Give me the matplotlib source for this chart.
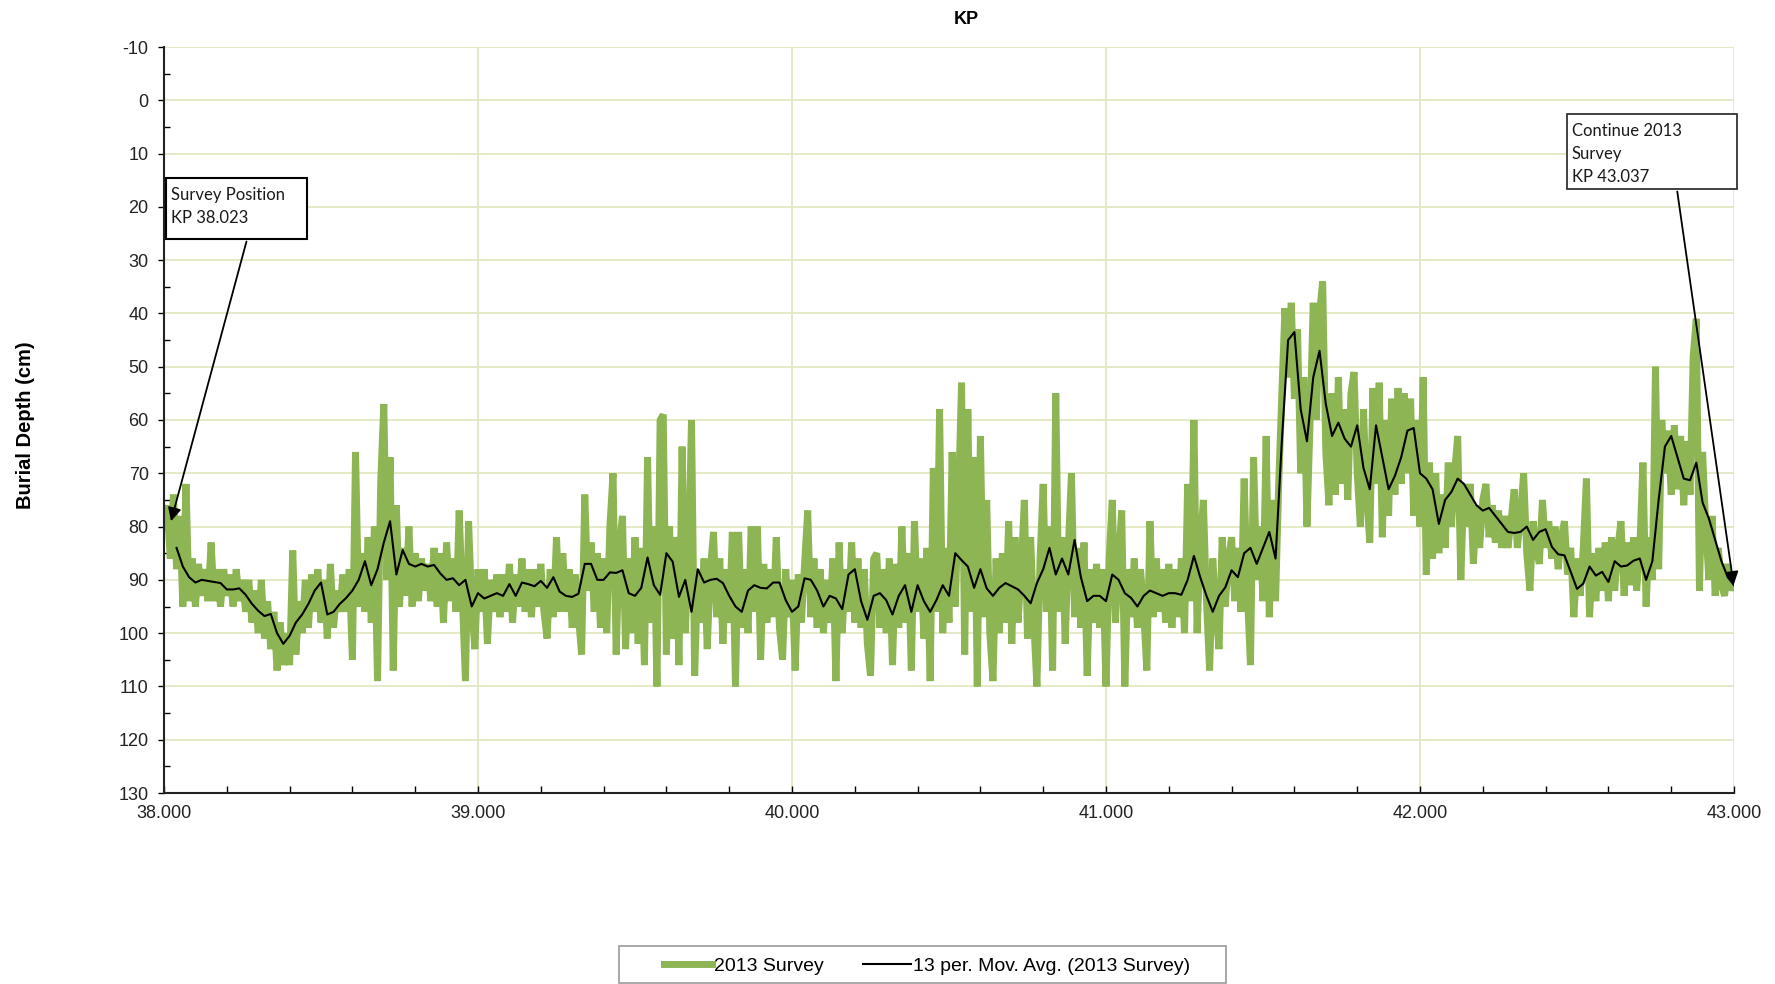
import numpy as np
import matplotlib
matplotlib.use('Agg')
import matplotlib.pyplot as plt
from matplotlib.patches import Rectangle
from matplotlib.ticker import MultipleLocator, FormatStrFormatter

plt.rcParams['axes.unicode_minus'] = False

# burial depth (cm), one value every 0.01 KP from 38.000
kp_start = 38.00
kp_step = 0.01
survey_2013 = [
    80, 76, 86, 74, 88, 78, 95, 72, 94, 86,
    95, 87, 93, 88, 94, 83, 94, 88, 95, 88,
    93, 89, 95, 88, 94, 90, 96, 90, 98, 92,
    100, 90, 101, 94, 103, 96, 107, 98, 106, 100,
    106, 84.5, 104, 94, 100, 90, 99, 89, 96, 88,
    98, 90, 101, 87, 99, 92, 96, 89, 96, 88,
    105, 66, 95, 85, 96, 82, 98, 80, 109, 72,
    57, 90, 67, 107, 76, 95, 84, 93, 80, 95,
    85, 94, 86, 92, 87,
    94, 84, 95, 85, 98,
    83, 94, 86, 96, 77, 93, 109, 79, 95, 103,
    88, 96, 88, 102, 90, 96, 89, 97, 89, 96,
    87, 98, 89, 95, 86, 96, 88, 97, 88, 95,
    87, 96, 101, 88, 97, 82, 96, 85, 96, 88,
    99, 89, 97, 104, 74, 92, 83, 96, 85, 99,
    86, 100, 80, 70, 104, 84, 78, 103, 86, 100,
    82, 102, 84, 106, 67, 98, 80, 110, 60, 59,
    104, 80, 101, 82, 106, 65, 100, 86,
    60, 108,
    88, 98, 86, 103, 88, 81, 97, 86, 102, 88,
    98, 81, 110, 81, 99, 88, 100, 80, 96, 80,
    105, 87, 98, 88, 97, 82, 99, 105, 88, 97,
    90, 107, 89, 98, 87, 77, 97, 86, 99, 88,
    100, 90, 98, 86, 109, 83, 100, 88, 96, 83,
    98, 86, 99, 88, 102, 108, 86, 85, 99, 88,
    100, 86, 106, 87, 99, 80, 98, 85, 107, 79,
    96, 86, 101, 84, 109, 69, 96, 58, 100, 84,
    98,
    66, 95, 75, 53, 104, 58, 96, 67, 110,
    63, 97, 75, 100, 109, 86, 100, 85, 98, 79,
    102, 82, 98, 88, 75, 101, 82, 98, 110, 86,
    72, 96, 80, 107, 55, 96, 82, 102, 84, 70,
    97, 84, 99, 83, 108, 88, 98, 87, 99, 88,
    110, 86, 75, 98, 86, 77, 110, 88, 97, 86,
    99, 88, 96, 107, 79, 97, 86, 96, 88, 98,
    87, 99, 88, 97, 86, 100, 72, 94, 60, 100,
    84,
    75, 94, 107, 86, 96, 103, 82, 95, 86,
    82, 94, 84, 96, 71, 92, 106, 67, 90, 80,
    94, 63, 97, 75, 94, 72, 55, 39, 52, 38,
    56, 43, 70, 52, 80, 60, 38, 60, 40, 34,
    66, 76, 55, 74, 52, 72, 58, 75, 55, 51,
    70, 80, 58, 74, 83, 54, 72, 53, 82, 60,
    78, 56, 74, 54, 72, 55, 70, 56, 78, 60,
    80, 52, 89, 68, 86, 70, 85, 74, 84, 68,
    80, 70, 63, 90, 72, 80,
    72, 87, 76, 84,
    75, 72, 82, 76, 83, 77, 84, 78, 84, 79,
    73, 84, 78, 70, 85, 92, 79, 84, 87, 75,
    84, 79, 86, 80, 88, 82, 79, 89, 84, 97,
    86, 93, 84, 71, 97, 85, 94, 84, 92, 83,
    94, 82, 92, 84, 79, 93, 83, 91, 82, 92,
    84, 68, 95, 82, 90, 50, 88, 60, 70, 62,
    74, 61, 73, 63, 76, 64, 74, 48, 41, 92,
    66, 80, 90, 78, 93, 84, 91, 93, 87, 92,
    90,
]

# 13 period moving average as drawn, one value every 0.02 KP from 38.04
avg_start = 38.04
avg_step = 0.02
mov_avg_13 = [
    84, 87.5, 89.5, 90.5, 90, 90.2, 90.4, 90.6, 91.8, 91.8,
    91.6, 92.8, 94.5, 95.8, 96.8, 96.4, 100, 102, 100.5, 98,
    96.5, 94.5, 92, 90.5, 96.5, 96, 94.5, 93.4, 92, 90,
    86.5, 91, 88, 83, 79, 89, 84.4, 87, 87.5, 87,
    87.5,
    87.2, 88.8, 90, 89.7, 91, 90, 95, 92.5, 93.5, 93,
    92.5, 93, 90.8, 93, 90.5, 90.8, 91.2, 90.2, 91.5, 89.5,
    92.2, 93, 93.2, 92.6, 87, 87, 90, 90, 88.6, 88.7,
    88.2, 92.5, 93, 91.5, 85.8, 91, 92.8, 85, 86.6, 93.2,
    90,
    96, 88, 90.5, 90, 89.8, 90.6, 93, 95, 96, 92,
    91, 91.5, 91.6, 90.5, 90.5, 93.8, 96, 95, 89.7, 90,
    92, 95, 93, 93.5, 95.5, 89, 88, 94, 97.5, 93,
    92.5, 93.8, 96.5, 93, 91, 96, 91, 94, 96, 93.8,
    91,
    93, 85, 86.3, 87.5, 91.5, 88, 91.6, 93, 91.5, 90.6,
    91.2, 91.8, 93, 94.4, 90.6, 88, 84, 89, 86, 89,
    82.5, 89.5, 94, 93, 93, 94, 89, 90, 92.5, 93.4,
    95, 93, 92, 92.5, 93, 92.5, 92.5, 92.8, 90, 85.5,
    89.5,
    93, 96, 93, 91.4, 88.2, 89.5, 85, 84, 87, 84,
    81, 86, 64, 45, 43.5, 58, 64, 52, 47, 57,
    63, 60.5, 63.5, 65, 61, 69, 73, 61, 67, 73,
    70.5, 67, 62, 61.5, 70, 71, 73, 79.5, 75, 73.5,
    71, 72,
    74, 76, 77, 76.5, 78, 79.5, 81, 81.2, 81, 80,
    82.5, 81, 80.5, 83.8, 85.2, 85.4, 88.5, 91.7, 90.7, 87.5,
    89.2, 88.5, 90.4, 86.5, 87.5, 87.3, 86.4, 86, 90, 86.5,
    75, 65, 63, 67, 71, 71.3, 68, 75.5, 78.5, 82.5,
    86.5, 89.5, 91,
]

notes = ['Survey Position\nKP 38.023', 'Continue 2013\nSurvey\nKP 43.037']
note_points = [(38.02, 79.5), (43.0, 91.5)]

kp = kp_start + kp_step * np.arange(len(survey_2013))
kp_avg = avg_start + avg_step * np.arange(len(mov_avg_13))

green = '#8db553'
grid_c = '#e2e7c2'

fig = plt.figure(figsize=(17.75, 9.84), dpi=100)
ax = fig.add_axes([164/1775., 1 - 793/984., 1570/1775., 746/984.])

ax.plot(kp, survey_2013, color=green, lw=5, label='2013 Survey', zorder=2,
        solid_joinstyle='bevel')
ax.plot(kp_avg, mov_avg_13, color='black', lw=1.5,
        label='13 per. Mov. Avg. (2013 Survey)', zorder=3)

ax.set_xlim(38, 43)
ax.set_ylim(130, -10)
ax.set_yticks(np.arange(-10, 131, 10))
ax.yaxis.set_minor_locator(MultipleLocator(5))
ax.xaxis.set_major_locator(MultipleLocator(1))
ax.xaxis.set_minor_locator(MultipleLocator(0.2))
ax.xaxis.set_major_formatter(FormatStrFormatter('%.3f'))
ax.grid(True, which='major', color=grid_c, lw=1.3, zorder=0)
ax.set_axisbelow(True)

ax.spines['top'].set_visible(False)
ax.spines['right'].set_visible(False)
for s in ['left', 'bottom']:
    ax.spines[s].set_color('#222222')
    ax.spines[s].set_linewidth(1.5)

ax.tick_params(axis='y', which='major', direction='out', length=4, width=1,
               pad=7, labelsize=13, labelcolor='#222222')
ax.tick_params(axis='y', which='minor', direction='in', length=4, width=1)
ax.tick_params(axis='x', which='both', direction='in', length=5, width=1,
               pad=9, labelsize=13, labelcolor='#222222')
for lab in ax.get_xticklabels() + ax.get_yticklabels():
    lab.set_family('Liberation Sans')

# text boxes with arrows
ax.add_patch(Rectangle((38.006, 14.6), 0.449, 11.4, facecolor='white',
                       edgecolor='black', lw=1.5, zorder=5))
ax.text(38.022, 16.3, notes[0], family='Lato', fontsize=12, va='top',
        ha='left', linespacing=1.5, color='#1a1a1a', zorder=6)
ax.annotate('', xy=note_points[0], xytext=(38.265, 26),
            arrowprops=dict(arrowstyle='-|>', color='black', lw=1.3,
                            mutation_scale=20), zorder=6)

ax.add_patch(Rectangle((42.468, 2.6), 0.542, 14.0, facecolor='white',
                       edgecolor='#333333', lw=1.3, zorder=5, clip_on=False))
ax.text(42.484, 4.2, notes[1], family='Lato', fontsize=12, va='top',
        ha='left', linespacing=1.55, color='#1a1a1a', zorder=6)
ax.annotate('', xy=note_points[1], xytext=(42.818, 16.6),
            arrowprops=dict(arrowstyle='-|>', color='black', lw=1.3,
                            mutation_scale=20), zorder=6, annotation_clip=False)

fig.text(966/1775., 1 - 19/984., 'KP', ha='center', va='center',
         fontsize=13, fontweight='bold', family='Liberation Sans')
fig.text(26/1775., 1 - 425/984., 'Burial Depth (cm)', rotation=90,
         ha='center', va='center', fontsize=14.5, fontweight='bold',
         family='Liberation Sans')

# legend without its own frame, box drawn to match the original width
leg = fig.legend(loc='center', bbox_to_anchor=(927/1775., 1 - 966/984.),
                 ncol=2, frameon=False, handlelength=2.5, columnspacing=2.0,
                 handletextpad=0.1,
                 prop={'family': 'Liberation Sans', 'size': 14})
fig.patches.append(Rectangle((619/1775., 1 - 983/984.), 607/1775., 37/984.,
                             transform=fig.transFigure, fill=False,
                             edgecolor='#999999', lw=1.2))

fig.savefig('out.png', dpi=100)
